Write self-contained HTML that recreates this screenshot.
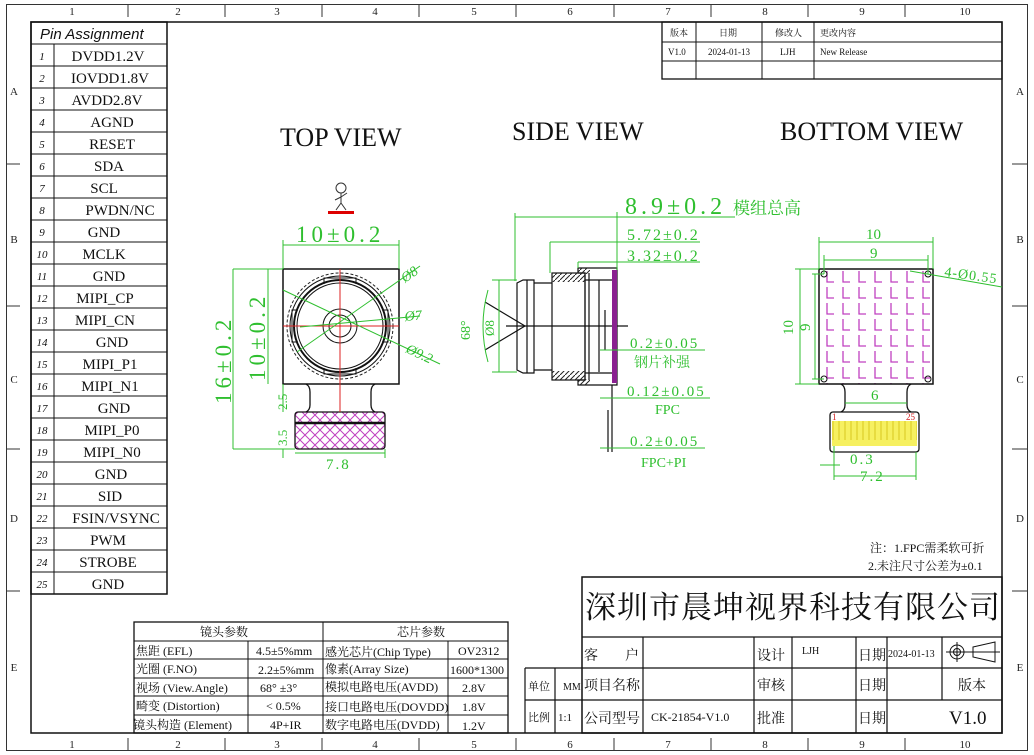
<!DOCTYPE html>
<html><head><meta charset="utf-8"><style>
html,body{margin:0;padding:0;background:#fff}
svg{display:block}
text{font-family:"Liberation Serif","Noto Serif CJK SC","Noto Sans CJK SC",serif}
.s{font-family:"Liberation Sans","Noto Sans CJK SC",sans-serif}
.g{fill:#2fbf2f}
.gl{stroke:#2fbf2f;stroke-width:1;fill:none}
.k{stroke:#111;fill:none}
</style></head><body>
<svg width="1034" height="755" viewBox="0 0 1034 755" xmlns="http://www.w3.org/2000/svg">
<defs>
<pattern id="xh" width="10" height="10" patternUnits="userSpaceOnUse">
<path d="M0 0L10 10M10 0L0 10" stroke="#c040c0" stroke-width="1"/></pattern>
<pattern id="ll" x="819" y="269" width="16" height="16" patternUnits="userSpaceOnUse">
<path d="M8 2V13H15" stroke="#c040c0" stroke-width="1.3" fill="none"/></pattern>
<pattern id="ht" width="5" height="5" patternUnits="userSpaceOnUse">
<path d="M0 5L5 0" stroke="#222" stroke-width="1"/></pattern>
<pattern id="yl" x="830" y="412" width="6" height="40" patternUnits="userSpaceOnUse">
<rect width="6" height="40" fill="#f6f060"/><path d="M3 4V28" stroke="#d8c820" stroke-width="1"/></pattern>
</defs>
<rect x="6.5" y="4.5" width="1021" height="746" fill="none" stroke="#333"/>
<rect x="31" y="22" width="971" height="711" fill="none" stroke="#111" stroke-width="1.5"/>
<g stroke="#333">
<path d="M128 4V17M225 4V17M322 4V17M419 4V17M516 4V17M614 4V17M711 4V17M808 4V17M905 4V17"/>
<path d="M128 738V750M225 738V750M322 738V750M419 738V750M516 738V750M614 738V750M711 738V750M808 738V750M905 738V750"/>
<path d="M6 164H20M6 306H20M6 449H20M6 591H20M1012 164H1027M1012 306H1027M1012 449H1027M1012 591H1027"/>
</g>
<g class="s" font-size="11" text-anchor="middle" fill="#222">
<text x="72" y="15">1</text><text x="178" y="15">2</text><text x="277" y="15">3</text><text x="375" y="15">4</text><text x="474" y="15">5</text><text x="570" y="15">6</text><text x="668" y="15">7</text><text x="765" y="15">8</text><text x="862" y="15">9</text><text x="965" y="15">10</text>
<text x="72" y="748">1</text><text x="178" y="748">2</text><text x="277" y="748">3</text><text x="375" y="748">4</text><text x="474" y="748">5</text><text x="570" y="748">6</text><text x="668" y="748">7</text><text x="765" y="748">8</text><text x="862" y="748">9</text><text x="965" y="748">10</text>
<text x="14" y="95">A</text><text x="14" y="243">B</text><text x="14" y="383">C</text><text x="14" y="522">D</text><text x="14" y="671">E</text>
<text x="1020" y="95">A</text><text x="1020" y="243">B</text><text x="1020" y="383">C</text><text x="1020" y="522">D</text><text x="1020" y="671">E</text>
</g>
<g stroke="#111" fill="none">
<rect x="31" y="22" width="136" height="572" stroke-width="1.5"/>
<path d="M54 44V594"/>
<path d="M31 44H167M31 66H167M31 88H167M31 110H167M31 132H167M31 154H167M31 176H167M31 198H167M31 220H167M31 242H167M31 264H167M31 286H167M31 308H167M31 330H167M31 352H167M31 374H167M31 396H167M31 418H167M31 440H167M31 462H167M31 484H167M31 506H167M31 528H167M31 550H167M31 572H167"/>
</g>
<text class="s" x="40" y="39" font-size="15" font-style="italic" fill="#111">Pin Assignment</text>
<g class="s" font-size="11" font-style="italic" fill="#111" text-anchor="middle">
<text x="42" y="60">1</text><text x="42" y="82">2</text><text x="42" y="104">3</text><text x="42" y="126">4</text><text x="42" y="148">5</text><text x="42" y="170">6</text><text x="42" y="192">7</text><text x="42" y="214">8</text><text x="42" y="236">9</text><text x="42" y="258">10</text><text x="42" y="280">11</text><text x="42" y="302">12</text><text x="42" y="324">13</text><text x="42" y="346">14</text><text x="42" y="368">15</text><text x="42" y="390">16</text><text x="42" y="412">17</text><text x="42" y="434">18</text><text x="42" y="456">19</text><text x="42" y="478">20</text><text x="42" y="500">21</text><text x="42" y="522">22</text><text x="42" y="544">23</text><text x="42" y="566">24</text><text x="42" y="588">25</text>
</g>
<g font-size="15" fill="#111" text-anchor="middle">
<text x="108" y="61">DVDD1.2V</text><text x="110" y="83">IOVDD1.8V</text><text x="107" y="105">AVDD2.8V</text><text x="112" y="127">AGND</text><text x="112" y="149">RESET</text><text x="109" y="171">SDA</text><text x="104" y="193">SCL</text><text x="120" y="215">PWDN/NC</text><text x="104" y="237">GND</text><text x="104" y="259">MCLK</text><text x="109" y="281">GND</text><text x="105" y="303">MIPI_CP</text><text x="105" y="325">MIPI_CN</text><text x="112" y="347">GND</text><text x="110" y="369">MIPI_P1</text><text x="110" y="391">MIPI_N1</text><text x="114" y="413">GND</text><text x="112" y="435">MIPI_P0</text><text x="112" y="457">MIPI_N0</text><text x="111" y="479">GND</text><text x="110" y="501">SID</text><text x="116" y="523">FSIN/VSYNC</text><text x="108" y="545">PWM</text><text x="108" y="567">STROBE</text><text x="108" y="589">GND</text>
</g>
<g stroke="#111" fill="none"><rect x="662" y="22" width="340" height="57" stroke-width="1.3"/>
<path d="M662 42H1002M662 61H1002M696 22V79M762 22V79M814 22V79"/></g>
<g font-size="9" fill="#111"><text x="670" y="36">版本</text><text x="719" y="36">日期</text><text x="775" y="36">修改人</text><text x="820" y="36">更改内容</text>
<text x="668" y="55">V1.0</text><text x="708" y="55">2024-01-13</text><text x="780" y="55">LJH</text><text x="820" y="55">New Release</text></g>
<g font-size="26" fill="#111"><text x="280" y="146">TOP VIEW</text><text x="512" y="140">SIDE VIEW</text><text x="780" y="140">BOTTOM VIEW</text></g>
<g stroke="#333" fill="none"><circle cx="341" cy="188" r="5"/><path d="M341 193V203M341 197L335 200M341 197L347 193M341 203L336 210M341 203L346 210"/></g>
<rect x="328" y="211" width="26" height="3" fill="#d00"/>
<rect x="283" y="269" width="116" height="115" class="k" stroke-width="1.5"/>
<path d="M306 384Q310 386 310 392V405Q310 410 306 412M375 384Q371 386 371 392V405Q371 410 375 412" class="k" stroke-width="1.3"/>
<rect x="295" y="412" width="90" height="37" rx="3" fill="url(#xh)" stroke="#111" stroke-width="1.3"/>
<path d="M295 423H385" stroke="#111" stroke-width="2.5"/>
<circle cx="340" cy="326" r="53" fill="none" stroke="#222" stroke-dasharray="3 2"/>
<circle cx="340" cy="326" r="50" class="k"/>
<circle cx="340" cy="326" r="46" class="k" stroke-width="2"/>
<circle cx="340" cy="326" r="43" class="k"/>
<circle cx="340" cy="326" r="17" class="k"/>
<circle cx="340" cy="326" r="11" class="k"/>
<g class="k"><path d="M324 284V278H356V284M324 368V374H356V368M298 310H292V342H298M382 310H388V342H382"/></g>
<path d="M283 326H399M340 269V412" stroke="#d22" stroke-width="1"/>
<path d="M283 290L440 364M297 352L420 266M300 327L420 316" class="gl"/>
<g class="g" font-size="14" font-style="italic"><text x="405" y="283" transform="rotate(-35 405 283)">Ø8</text><text x="405" y="321" transform="rotate(-5 405 321)">Ø7</text><text x="405" y="352" transform="rotate(25 405 352)">Ø9.2</text></g>
<path d="M283 269V240M399 269V240M283 245H399M233 269H283M233 449H295M233 269V449M268 269V384M283 384V412M283 449V458M385 449V458M295 453H385" class="gl"/>
<text x="296" y="242" class="g" font-size="23" letter-spacing="4">10±0.2</text>
<text x="265" y="381" class="g" font-size="23" letter-spacing="4" transform="rotate(-90 265 381)">10±0.2</text>
<text x="231" y="404" class="g" font-size="23" letter-spacing="4" transform="rotate(-90 231 404)">16±0.2</text>
<text x="287" y="410" class="g" font-size="13" transform="rotate(-90 287 410)">2.5</text>
<text x="287" y="446" class="g" font-size="13" transform="rotate(-90 287 446)">3.5</text>
<text x="326" y="469" class="g" font-size="15" letter-spacing="2">7.8</text>
<g class="k" stroke-width="1.2">
<path d="M517 283L523 280H534V373H523L517 370Z"/>
<path d="M527 280V373M534 283H552M534 370H552"/>
<rect x="552" y="273" width="33" height="107"/>
<path d="M578 268H617V385H578V380H585V273H578Z"/>
<path d="M589 273V380M599 280V372M585 280H612M585 373H612"/>
<path d="M605 310V350"/>
<path d="M506 326H628"/>
<path d="M525 326L485 302M525 326L485 350"/>
<path d="M612 385V452M608 410V452"/>
</g>
<rect x="552" y="273" width="33" height="9" fill="url(#ht)"/>
<rect x="552" y="371" width="33" height="9" fill="url(#ht)"/>
<rect x="578" y="268" width="12" height="6" fill="url(#ht)"/>
<rect x="578" y="379" width="12" height="6" fill="url(#ht)"/>
<rect x="612" y="270" width="5" height="113" fill="#8a2090"/>
<path d="M515 281V213M515 217H617V212M617 217H735M550 273V242M550 242H617M617 242H700M578 268V262M578 262H700M499 280V372M492 280H517M492 372H517M600 350H705M600 398H710M600 448H705M617 270V212" class="gl"/>
<path d="M488 290Q478 326 488 362" class="gl"/>
<text x="494" y="336" class="g" font-size="13" transform="rotate(-90 494 336)">Ø8</text>
<text x="470" y="340" class="g" font-size="14" transform="rotate(-90 470 340)">68°</text>
<text x="625" y="214" class="g" font-size="24" letter-spacing="4">8.9±0.2</text>
<text x="733" y="214" class="g" font-size="17">模组总高</text>
<text x="627" y="240" class="g" font-size="16" letter-spacing="2">5.72±0.2</text>
<text x="627" y="261" class="g" font-size="16" letter-spacing="2">3.32±0.2</text>
<text x="630" y="348" class="g" font-size="15" letter-spacing="2">0.2±0.05</text>
<text x="634" y="367" class="g" font-size="14">钢片补强</text>
<text x="627" y="396" class="g" font-size="15" letter-spacing="2">0.12±0.05</text>
<text x="655" y="414" class="g" font-size="14">FPC</text>
<text x="630" y="446" class="g" font-size="15" letter-spacing="2">0.2±0.05</text>
<text x="641" y="467" class="g" font-size="14">FPC+PI</text>
<rect x="819" y="269" width="114" height="115" fill="url(#ll)" stroke="#111" stroke-width="1.5"/>
<g class="k"><circle cx="824" cy="274" r="3"/><circle cx="928" cy="274" r="3"/><circle cx="824" cy="379" r="3"/><circle cx="928" cy="379" r="3"/></g>
<path d="M841 384Q845 386 845 392V405Q845 410 841 412M911 384Q907 386 907 392V405Q907 410 911 412" class="k" stroke-width="1.3"/>
<rect x="830" y="412" width="89" height="40" rx="3" fill="#fff" stroke="#111" stroke-width="1.3"/>
<rect x="832" y="421" width="85" height="25" fill="url(#yl)"/>
<text x="832" y="420" font-size="9" fill="#d02020">1</text><text x="906" y="420" font-size="9" fill="#d02020">25</text>
<path d="M819 269V237M933 269V237M819 242H933M824 274V255M928 274V255M824 260H928M819 269H795M819 384H795M800 269V384M824 274H812M824 379H812M815 274V379M910 271L1002 287M845 403H907M834 446V480M916 452V480M834 476H916M820 465H840" class="gl"/>
<text x="866" y="239" class="g" font-size="15">10</text>
<text x="870" y="258" class="g" font-size="15">9</text>
<text x="793" y="335" class="g" font-size="15" transform="rotate(-90 793 335)">10</text>
<text x="810" y="331" class="g" font-size="15" transform="rotate(-90 810 331)">9</text>
<text x="944" y="276" class="g" font-size="14" letter-spacing="1" transform="rotate(8 944 276)">4-Ø0.55</text>
<text x="871" y="400" class="g" font-size="15">6</text>
<text x="850" y="464" class="g" font-size="15" letter-spacing="2">0.3</text>
<text x="860" y="481" class="g" font-size="15" letter-spacing="2">7.2</text>
<text x="870" y="552" font-size="12" fill="#111">注：1.FPC需柔软可折</text>
<text x="868" y="570" font-size="12" fill="#111">2.未注尺寸公差为±0.1</text>
<g stroke="#111" fill="none"><rect x="134" y="622" width="374" height="111" stroke-width="1.3"/>
<path d="M134 641H508M134 659H508M134 678H508M134 696H508M134 715H508M323 622V733M248 641V733M448 641V733"/></g>
<g font-size="12" fill="#111">
<text x="200" y="636">镜头参数</text><text x="397" y="636">芯片参数</text>
<text x="136" y="655">焦距 (EFL)</text><text x="256" y="655">4.5±5%mm</text><text x="325" y="656">感光芯片(Chip Type)</text><text x="458" y="655">OV2312</text>
<text x="136" y="673">光圈 (F.NO)</text><text x="258" y="674">2.2±5%mm</text><text x="325" y="673">像素(Array Size)</text><text x="450" y="674">1600*1300</text>
<text x="136" y="692">视场 (View.Angle)</text><text x="260" y="692">68° ±3°</text><text x="325" y="691">模拟电路电压(AVDD)</text><text x="462" y="692">2.8V</text>
<text x="136" y="710">畸变 (Distortion)</text><text x="266" y="710">&lt; 0.5%</text><text x="325" y="711">接口电路电压(DOVDD)</text><text x="462" y="711">1.8V</text>
<text x="133" y="729">镜头构造 (Element)</text><text x="270" y="729">4P+IR</text><text x="325" y="729">数字电路电压(DVDD)</text><text x="462" y="730">1.2V</text>
</g>
<g stroke="#111" fill="none"><rect x="582" y="577" width="420" height="156" stroke-width="1.5"/>
<path d="M582 637H1002M525 668H1002M525 700H1002M525 668V733M555 668V733M643 637V733M754 637V733M792 637V733M856 637V733M887 637V733M942 637V700" stroke-width="1.2"/></g>
<text x="585" y="618" font-size="31" letter-spacing="1" fill="#111" font-family="'Noto Serif CJK SC','Liberation Serif',serif">深圳市晨坤视界科技有限公司</text>
<g font-size="14" fill="#111">
<text x="584" y="660">客</text><text x="625" y="660">户</text>
<text x="757" y="660">设计</text><text x="802" y="654" font-size="10">LJH</text><text x="858" y="660">日期</text><text x="888" y="657" font-size="10">2024-01-13</text>
<text x="528" y="690" font-size="11">单位</text><text x="563" y="690" font-size="10">MM</text>
<text x="584" y="690">项目名称</text><text x="757" y="690">审核</text><text x="858" y="690">日期</text><text x="958" y="690">版本</text>
<text x="528" y="721" font-size="11">比例</text><text x="558" y="721" font-size="11">1:1</text>
<text x="584" y="723">公司型号</text><text x="651" y="721" font-size="12">CK-21854-V1.0</text><text x="757" y="723">批准</text><text x="858" y="723">日期</text>
<text x="949" y="724" font-size="19">V1.0</text>
</g>
<g class="k"><circle cx="957" cy="652" r="7"/><circle cx="957" cy="652" r="3.5"/><path d="M946 652H1000M957 642V662M973 647L995 642V662L973 657Z"/></g>
</svg>
</body></html>
